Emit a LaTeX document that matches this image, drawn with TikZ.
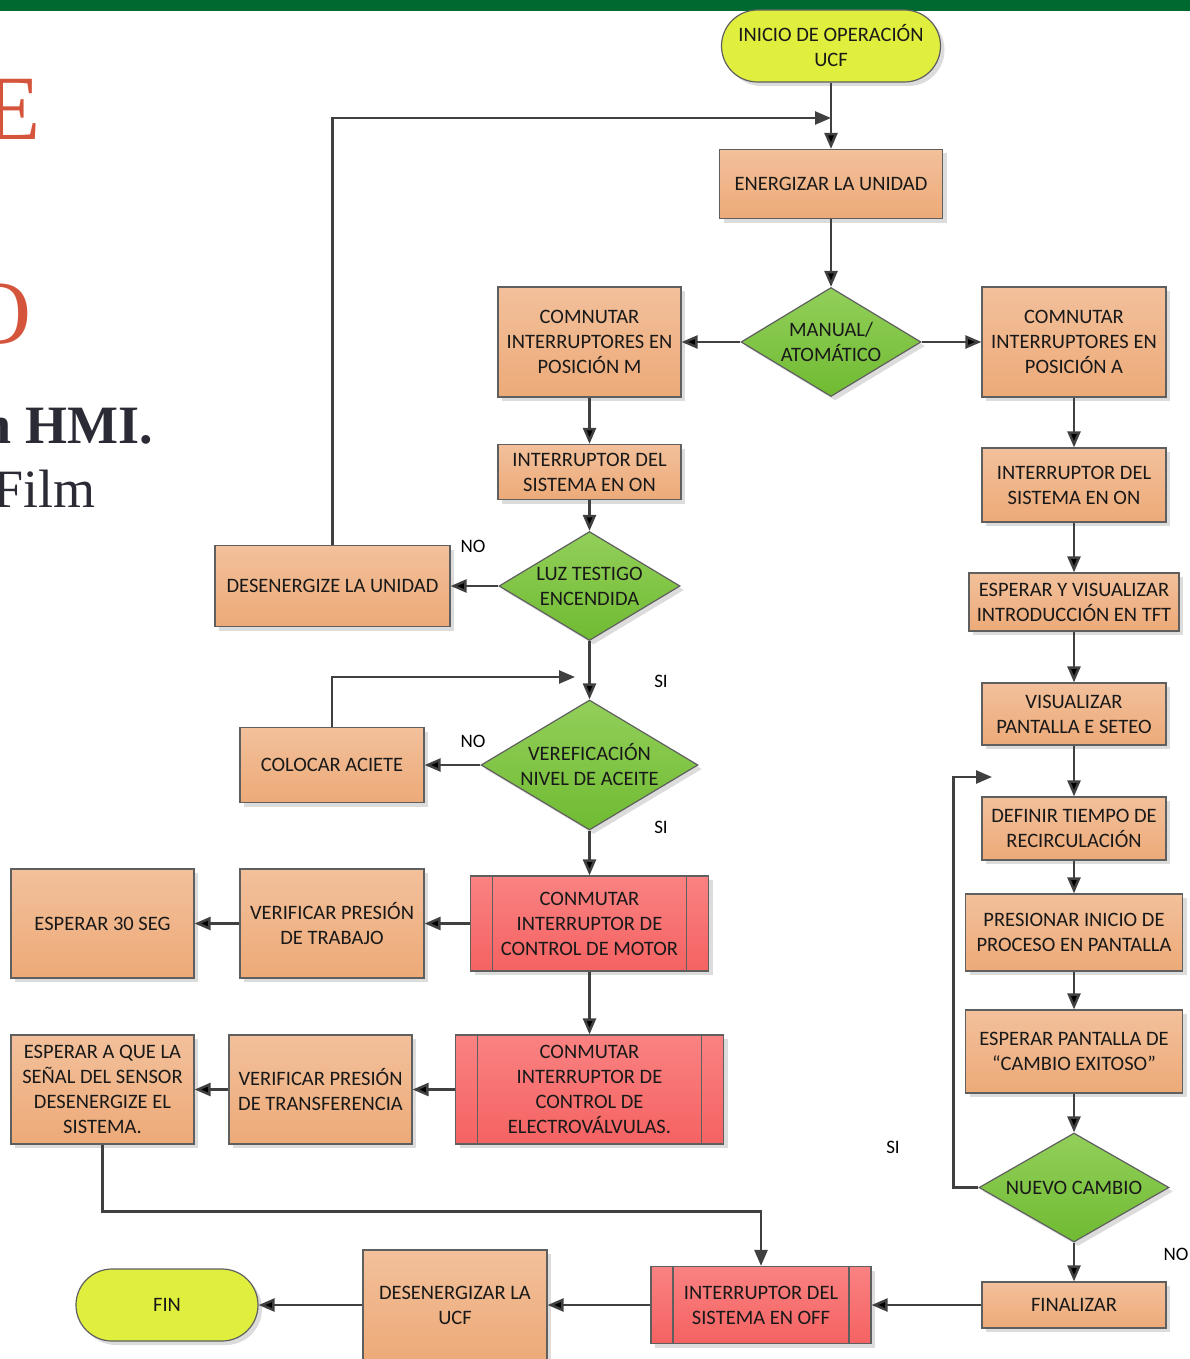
\documentclass[tikz,border=0pt]{standalone}
\usepackage{fontspec}
\setmainfont{Carlito}
\newfontfamily\slidefont{Liberation Serif}
\usetikzlibrary{arrows.meta,shapes.geometric,shadows}

\definecolor{bargreen}{HTML}{00692F}
\definecolor{slidered}{HTML}{D4553B}
\definecolor{slidedark}{HTML}{2B2B35}
\definecolor{linegray}{HTML}{404040}
\definecolor{boxline}{HTML}{5F5F5F}
\definecolor{orangetop}{HTML}{F2C09B}
\definecolor{orangebot}{HTML}{EDAA78}
\definecolor{redtop}{HTML}{FA8282}
\definecolor{redbot}{HTML}{F56262}
\definecolor{greentop}{HTML}{92CF5A}
\definecolor{greenbot}{HTML}{70BB32}
\definecolor{termfill}{HTML}{E0EF3E}

\begin{document}
\begin{tikzpicture}[x=1pt,y=-1pt,>={Triangle[length=16pt,width=13pt]},
  font=\fontsize{20.5}{25}\selectfont,
  base/.style={draw=boxline,line width=1.2pt,align=center,inner sep=0pt,text=black!90,
    drop shadow={shadow xshift=4pt,shadow yshift=-4pt,opacity=0.3,fill=black!45}},
  task/.style={base,rectangle,top color=orangetop,bottom color=orangebot},
  sub/.style={base,rectangle,top color=redtop,bottom color=redbot,
    path picture={\draw[boxline,line width=1.2pt]
      ([xshift=22pt]path picture bounding box.north west) -- ([xshift=22pt]path picture bounding box.south west)
      ([xshift=-22pt]path picture bounding box.north east) -- ([xshift=-22pt]path picture bounding box.south east);}},
  decision/.style={base,diamond,aspect=1.65,top color=greentop,bottom color=greenbot},
  term/.style={base,rectangle,rounded corners=36pt,fill=termfill},
  flow/.style={draw=linegray,line width=2.5pt,->},
  tag/.style={font=\fontsize{19}{23}\selectfont}]

  \useasboundingbox (0,0) rectangle (1190,1359);
  \clip (0,0) rectangle (1190,1359);

  \fill[bargreen] (0,0) rectangle (1190,11);
  \node[anchor=base east,inner sep=0pt,text=slidered,font=\slidefont\fontsize{92}{92}\selectfont] (titlea) at (41,140) {E};
  \node[anchor=base east,inner sep=0pt,text=slidered,font=\slidefont\fontsize{90}{90}\selectfont] (titleb) at (32,343) {O};
  \node[anchor=base east,inner sep=0pt,text=slidedark,font=\slidefont\bfseries\fontsize{54}{54}\selectfont] (titlec) at (153,443) {n HMI.};
  \node[anchor=base east,inner sep=0pt,text=slidedark,font=\slidefont\fontsize{54}{54}\selectfont] (titled) at (96,507) {Film};

  \node[term,minimum width=219pt,minimum height=72pt] (start) at (831,46) {INICIO DE OPERACIÓN\\UCF};
  \node[task,minimum width=223pt,minimum height=69pt] (energ) at (831,184) {ENERGIZAR LA UNIDAD};
  \node[decision,minimum width=180pt,minimum height=109pt] (mode) at (831,342) {MANUAL/\\ATOMÁTICO};
  \node[task,minimum width=183pt,minimum height=110pt] (posm) at (589.5,342) {COMNUTAR\\INTERRUPTORES EN\\POSICIÓN M};
  \node[task,minimum width=184pt,minimum height=110pt] (posa) at (1074,342) {COMNUTAR\\INTERRUPTORES EN\\POSICIÓN A};
  \node[task,minimum width=183pt,minimum height=55pt] (onl) at (589.5,472) {INTERRUPTOR DEL\\SISTEMA EN ON};
  \node[task,minimum width=184pt,minimum height=74pt] (onr) at (1074,485) {INTERRUPTOR DEL\\SISTEMA EN ON};
  \node[decision,minimum width=181pt,minimum height=109pt] (luz) at (589.5,586) {LUZ TESTIGO\\ENCENDIDA};
  \node[task,minimum width=235pt,minimum height=81pt] (desen) at (332.5,586) {DESENERGIZE LA UNIDAD};
  \node[task,minimum width=210pt,minimum height=58pt] (tft) at (1074,602) {ESPERAR Y VISUALIZAR\\INTRODUCCIÓN EN TFT};
  \node[task,minimum width=184pt,minimum height=62pt] (seteo) at (1074,714) {VISUALIZAR\\PANTALLA E SETEO};
  \node[decision,minimum width=217pt,minimum height=130pt] (aceite) at (589.5,765) {VEREFICACIÓN\\NIVEL DE ACEITE};
  \node[task,minimum width=184pt,minimum height=75pt] (colocar) at (332,765) {COLOCAR ACIETE};
  \node[task,minimum width=184pt,minimum height=63pt] (tiempo) at (1074,828.5) {DEFINIR TIEMPO DE\\RECIRCULACIÓN};
  \node[sub,minimum width=238pt,minimum height=95pt] (motor) at (589.5,923.5) {CONMUTAR\\INTERRUPTOR DE\\CONTROL DE MOTOR};
  \node[task,minimum width=184pt,minimum height=109pt] (trabajo) at (332,923.5) {VERIFICAR PRESIÓN\\DE TRABAJO};
  \node[task,minimum width=183pt,minimum height=109pt] (seg) at (102.5,923.5) {ESPERAR 30 SEG};
  \node[task,minimum width=217pt,minimum height=77pt] (inicio) at (1074,932.5) {PRESIONAR INICIO DE\\PROCESO EN PANTALLA};
  \node[sub,minimum width=268pt,minimum height=109pt] (valv) at (589.5,1089.5) {CONMUTAR\\INTERRUPTOR DE\\CONTROL DE\\ELECTROVÁLVULAS.};
  \node[task,minimum width=183pt,minimum height=109pt] (transf) at (320.5,1089.5) {VERIFICAR PRESIÓN\\DE TRANSFERENCIA};
  \node[task,minimum width=183pt,minimum height=109pt] (senal) at (102.5,1089.5) {ESPERAR A QUE LA\\SEÑAL DEL SENSOR\\DESENERGIZE EL\\SISTEMA.};
  \node[task,minimum width=217pt,minimum height=83pt] (exito) at (1074,1051.5) {ESPERAR PANTALLA DE\\“CAMBIO EXITOSO”};
  \node[decision,minimum width=190pt,minimum height=109pt] (nuevo) at (1074,1187.5) {NUEVO CAMBIO};
  \node[task,minimum width=184pt,minimum height=46pt] (final) at (1074,1305) {FINALIZAR};
  \node[sub,minimum width=220pt,minimum height=77pt] (off) at (761,1305) {INTERRUPTOR DEL\\SISTEMA EN OFF};
  \node[task,minimum width=184pt,minimum height=110pt] (desucf) at (455,1305) {DESENERGIZAR LA\\UCF};
  \node[term,minimum width=182pt,minimum height=72pt] (fin) at (167,1305) {FIN};

  \node[tag] (noa) at (473,546) {NO};
  \node[tag] (sia) at (661,681) {SI};
  \node[tag] (nob) at (473,741) {NO};
  \node[tag] (sib) at (661,827) {SI};
  \node[tag] (sic) at (893,1147) {SI};
  \node[tag] (noc) at (1176,1254) {NO};

  \coordinate (joina) at (831,118);
  \coordinate (joinb) at (575,677);
  \coordinate (joinc) at (992,777);

  \path[flow]
    (start) edge (energ)
    (energ) edge (mode)
    (mode) edge (posm)
    (mode) edge (posa)
    (posm) edge (onl)
    (onl) edge (luz)
    (luz) edge (desen)
    (luz) edge (aceite)
    (aceite) edge (colocar)
    (aceite) edge (motor)
    (motor) edge (trabajo)
    (trabajo) edge (seg)
    (motor) edge (valv)
    (valv) edge (transf)
    (transf) edge (senal)
    (posa) edge (onr)
    (onr) edge (tft)
    (tft) edge (seteo)
    (seteo) edge (tiempo)
    (tiempo) edge (inicio)
    (inicio) edge (exito)
    (exito) edge (nuevo)
    (nuevo) edge (final)
    (final) edge (off)
    (off) edge (desucf)
    (desucf) edge (fin);

  \draw[flow] (desen.north) |- (joina);
  \draw[flow] (colocar.north) |- (joinb);
  \draw[flow] (nuevo.west) -- ++(-25,0) |- (joinc);
  \draw[flow] (senal.south) -- ++(0,67) -| (off.north);

\end{tikzpicture}
\end{document}
